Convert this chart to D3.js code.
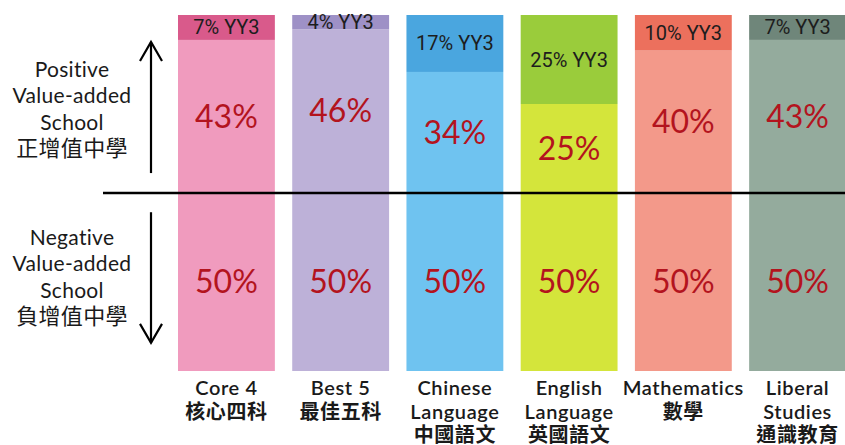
<!DOCTYPE html>
<html>
<head>
<meta charset="utf-8">
<script src="https://cdn.jsdelivr.net/npm/d3@7"></script>
<style>
  body { margin: 0; background: #fff; }
  svg { display: block; }
</style>
</head>
<body>
<script>
var width = 845;
var height = 445;

// data
var categories = ["Core 4", "Best 5", "Chinese", "English", "Mathematics", "Liberal"];
var positive = [43, 46, 34, 25, 40, 43];
var yy3 = [7, 4, 17, 25, 10, 7];
var negative = [50, 50, 50, 50, 50, 50];
var catLabels = [
    ["Core 4", "核心四科"],
    ["Best 5", "最佳五科"],
    ["Chinese", "Language", "中國語文"],
    ["English", "Language", "英國語文"],
    ["Mathematics", "數學"],
    ["Liberal", "Studies", "通識教育"]
];
var mainColors = ["#f09bbe", "#bdb1d8", "#6fc3f0", "#d4e53b", "#f3998a", "#94ab9d"];
var topColors = ["#d95a8b", "#9e91c6", "#4aa6df", "#9acc3b", "#ec705d", "#6f867a"];
var posLabel = ["Positive", "Value-added", "School", "正增值中學"];
var negLabel = ["Negative", "Value-added", "School", "負增值中學"];

var svg = d3.select("body")
    .append("svg")
    .attr("width", width)
    .attr("height", height);

var x = d3.scaleBand()
    .domain(categories)
    .range([178, 846])
    .paddingInner(0.152)
    .paddingOuter(0);

var y = d3.scaleLinear()
    .domain([-50, 50])
    .range([371, 15]);

var half = 50;
var font = "Lato, 'Noto Sans CJK TC', sans-serif";

var bars = svg.append("g").selectAll("g")
    .data(categories)
    .enter()
    .append("g");

// negative part
bars.append("rect")
    .attr("x", function (d) { return x(d); })
    .attr("width", x.bandwidth())
    .attr("y", y(0))
    .attr("height", function (d, i) { return y(-negative[i]) - y(0); })
    .attr("fill", function (d, i) { return mainColors[i]; });

// positive part
bars.append("rect")
    .attr("x", function (d) { return x(d); })
    .attr("width", x.bandwidth())
    .attr("y", function (d, i) { return y(positive[i]); })
    .attr("height", function (d, i) { return y(0) - y(positive[i]); })
    .attr("fill", function (d, i) { return mainColors[i]; });

// YY3 part on top
bars.append("rect")
    .attr("x", function (d) { return x(d); })
    .attr("width", x.bandwidth())
    .attr("y", function (d, i) { return y(Math.min(positive[i] + yy3[i], half)); })
    .attr("height", function (d, i) {
        return y(positive[i]) - y(Math.min(positive[i] + yy3[i], half));
    })
    .attr("fill", function (d, i) { return topColors[i]; });

// value labels
bars.append("text")
    .attr("x", function (d) { return x(d) + x.bandwidth() / 2; })
    .attr("y", function (d, i) { return y(positive[i] / 2); })
    .attr("dy", "0.35em")
    .attr("text-anchor", "middle")
    .attr("font-family", font)
    .attr("font-size", 32)
    .attr("fill", "#b3141e")
    .text(function (d, i) { return positive[i] + "%"; });

bars.append("text")
    .attr("x", function (d) { return x(d) + x.bandwidth() / 2; })
    .attr("y", function (d, i) { return y(-negative[i] / 2); })
    .attr("dy", "0.35em")
    .attr("text-anchor", "middle")
    .attr("font-family", font)
    .attr("font-size", 32)
    .attr("fill", "#b3141e")
    .text(function (d, i) { return negative[i] + "%"; });

bars.append("text")
    .attr("x", function (d) { return x(d) + x.bandwidth() / 2; })
    .attr("y", function (d, i) {
        var top = Math.min(positive[i] + yy3[i], half);
        return Math.max(y((top + positive[i]) / 2), 22);
    })
    .attr("dy", "0.35em")
    .attr("text-anchor", "middle")
    .attr("font-family", "Roboto, sans-serif")
    .attr("font-size", 20)
    .attr("fill", "#1d1d1d")
    .text(function (d, i) { return yy3[i] + "% YY3"; });

// category labels
bars.each(function (d, i) {
    var t = d3.select(this).append("text")
        .attr("text-anchor", "middle")
        .attr("font-family", font)
        .attr("font-size", 20)
        .attr("font-weight", 600)
        .attr("letter-spacing", 0.6)
        .attr("fill", "#1a1a1a");
    catLabels[i].forEach(function (line, j) {
        t.append("tspan")
            .attr("x", x(d) + x.bandwidth() / 2)
            .attr("y", y(-half) + 24 + j * 23.5)
            .text(line);
    });
});

// side labels
function sideLabel(lines, firstBaseline) {
    var t = svg.append("text")
        .attr("text-anchor", "middle")
        .attr("font-family", font)
        .attr("font-size", 21)
        .attr("letter-spacing", 0.3)
        .attr("fill", "#1a1a1a");
    lines.forEach(function (line, j) {
        t.append("tspan")
            .attr("x", 72)
            .attr("y", firstBaseline + j * 26.3)
            .attr("font-size", j === lines.length - 1 ? 22 : 21)
            .text(line);
    });
}
sideLabel(posLabel, 77);
sideLabel(negLabel, 245);

// zero line
svg.append("line")
    .attr("x1", 103)
    .attr("x2", width)
    .attr("y1", y(0))
    .attr("y2", y(0))
    .attr("stroke", "#000")
    .attr("stroke-width", 2.5);

// arrows
var ax = 151;
function arrow(from, to) {
    var dir = to < from ? 1 : -1;
    var g = svg.append("g")
        .attr("stroke", "#000")
        .attr("stroke-width", 2.2)
        .attr("fill", "none");
    g.append("line")
        .attr("x1", ax).attr("x2", ax)
        .attr("y1", from).attr("y2", to);
    g.append("path")
        .attr("d", "M" + (ax - 11) + "," + (to + dir * 19) + "L" + ax + "," + to + "L" + (ax + 11) + "," + (to + dir * 19));
}
arrow(y(5.6), y(42.4));
arrow(y(-5.4), y(-42.1));
</script>
</body>
</html>
